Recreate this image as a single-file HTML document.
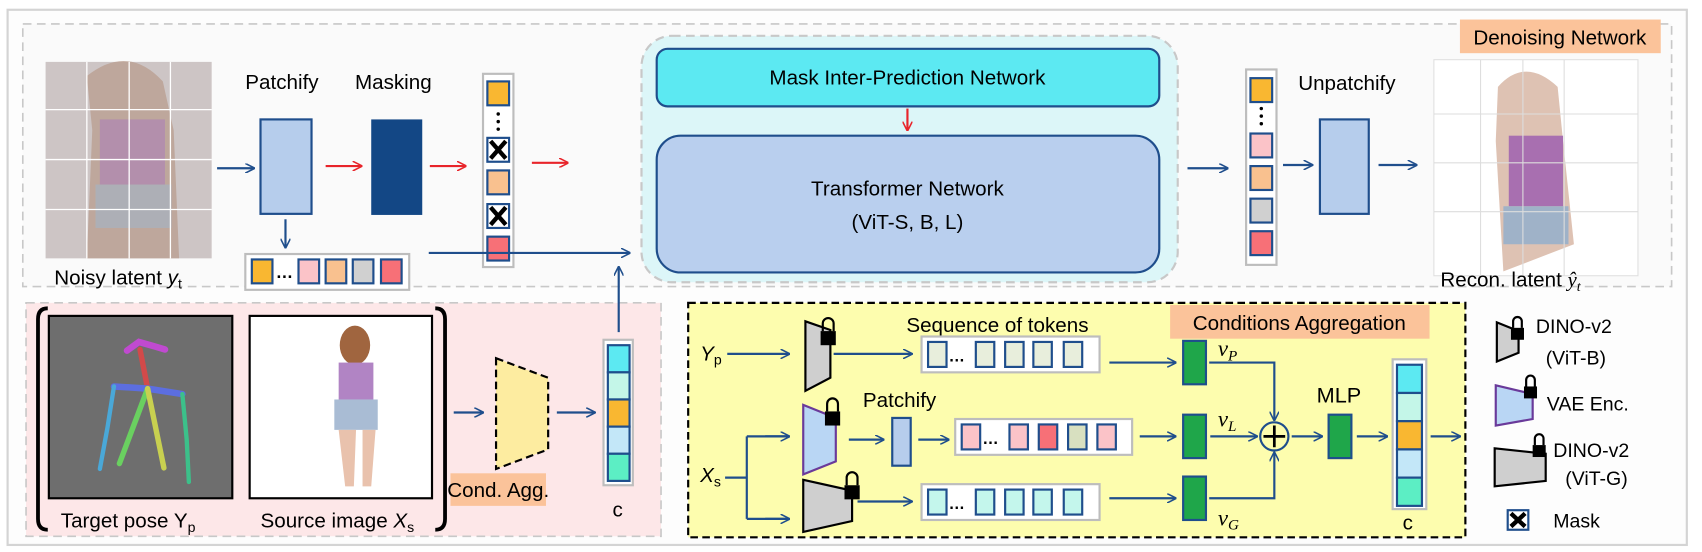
<!DOCTYPE html>
<html><head><meta charset="utf-8"><style>
html,body{margin:0;padding:0;background:#fff;}
svg{display:block;font-family:"Liberation Sans",sans-serif;}
</style></head><body>
<svg width="1702" height="552" viewBox="0 0 1568 508.5" preserveAspectRatio="none" xmlns="http://www.w3.org/2000/svg">
<defs>
<marker id="ab" viewBox="0 0 10 10" refX="9" refY="5" markerWidth="9" markerHeight="9" orient="auto" markerUnits="userSpaceOnUse"><path d="M0,0 L10,5 L0,10" fill="none" stroke="#1f4e8c" stroke-width="1.6"/></marker>
<marker id="ar" viewBox="0 0 10 10" refX="9" refY="5" markerWidth="9" markerHeight="9" orient="auto" markerUnits="userSpaceOnUse"><path d="M0,0 L10,5 L0,10" fill="none" stroke="#e8242a" stroke-width="1.6"/></marker>
</defs>
<rect x="7" y="9" width="1547" height="493" fill="#fdfdfd" stroke="#d4d4d4" stroke-width="2"/>
<rect x="21" y="22" width="1519" height="242" fill="#fafafa" stroke="#c8c8c8" stroke-width="1.5" stroke-dasharray="8,5"/>
<!-- noisy latent -->
<rect x="42" y="57" width="153" height="181" fill="#cdc5c5"/>
<path d="M80,70 Q118,40 150,75 L160,120 L165,238 L80,238 L85,120 Z" fill="#b89a8a" opacity="0.7"/>
<rect x="92" y="110" width="60" height="60" fill="#b08ab0" opacity="0.8"/>
<rect x="88" y="170" width="70" height="40" fill="#a9b1bd" opacity="0.8"/>
<g stroke="#fff" stroke-width="1.2"><line x1="80" y1="57" x2="80" y2="238"/><line x1="119" y1="57" x2="119" y2="238"/><line x1="157" y1="57" x2="157" y2="238"/><line x1="42" y1="101" x2="195" y2="101"/><line x1="42" y1="147" x2="195" y2="147"/><line x1="42" y1="193" x2="195" y2="193"/></g>
<text x="50" y="262" font-size="19">Noisy latent <tspan font-style="italic">y</tspan><tspan font-size="13" dy="4">t</tspan></text>
<line x1="200" y1="155" x2="234" y2="155" stroke="#1f4e8c" stroke-width="2" marker-end="url(#ab)"/>
<text x="226" y="82" font-size="19">Patchify</text>
<rect x="240" y="110" width="47" height="87" fill="#b6cdec" stroke="#1f4e8c" stroke-width="2"/>
<line x1="263" y1="202" x2="263" y2="228" stroke="#1f4e8c" stroke-width="2" marker-end="url(#ab)"/>
<text x="327" y="82" font-size="19">Masking</text>
<rect x="342" y="110" width="47" height="88" fill="#134785"/>
<line x1="300" y1="153" x2="333" y2="153" stroke="#e8242a" stroke-width="2" marker-end="url(#ar)"/>
<line x1="396" y1="153" x2="429" y2="153" stroke="#e8242a" stroke-width="2" marker-end="url(#ar)"/>
<line x1="490" y1="150" x2="523" y2="150" stroke="#e8242a" stroke-width="2" marker-end="url(#ar)"/>
<rect x="445" y="68" width="28" height="178" fill="#fff" stroke="#bdbdbd" stroke-width="2"/>
<g stroke="#1f4e8c" stroke-width="2">
<rect x="449" y="75" width="20" height="22" fill="#f9b731"/>
<rect x="449" y="127" width="20" height="22" fill="#fff"/>
<rect x="449" y="157" width="20" height="22" fill="#f9c18f"/>
<rect x="449" y="188" width="20" height="22" fill="#fff"/>
<rect x="449" y="218" width="20" height="22" fill="#f77077"/>
</g>
<g fill="#000"><circle cx="459" cy="105" r="1.6"/><circle cx="459" cy="112" r="1.6"/><circle cx="459" cy="119" r="1.6"/></g>
<g stroke="#000" stroke-width="4"><path d="M452,130 L466,146 M466,130 L452,146"/><path d="M452,191 L466,207 M466,191 L452,207"/></g>
<rect x="226" y="234" width="151" height="33" fill="#fff" stroke="#bdbdbd" stroke-width="2"/>
<g stroke="#1f4e8c" stroke-width="2">
<rect x="232" y="239" width="19" height="22" fill="#f9b731"/>
<rect x="275" y="239" width="19" height="22" fill="#fbc3c8"/>
<rect x="300" y="239" width="19" height="22" fill="#f9c18f"/>
<rect x="325" y="239" width="19" height="22" fill="#d0d0d0"/>
<rect x="351" y="239" width="19" height="22" fill="#f77077"/>
</g>
<text x="254" y="256" font-size="16" font-weight="bold">…</text>
<path d="M395,233 L580,233" stroke="#1f4e8c" stroke-width="2" marker-end="url(#ab)"/>
<!-- network -->
<rect x="591" y="33" width="494" height="227" rx="28" fill="#dcf6f8" stroke="#c8c8c8" stroke-width="2" stroke-dasharray="8,5"/>
<rect x="605" y="45" width="463" height="53" rx="10" fill="#5ce9f2" stroke="#1f4e8c" stroke-width="2"/>
<text x="836" y="78" font-size="19" text-anchor="middle">Mask Inter-Prediction Network</text>
<line x1="836" y1="100" x2="836" y2="120" stroke="#e8242a" stroke-width="2" marker-end="url(#ar)"/>
<rect x="605" y="125" width="463" height="126" rx="22" fill="#b9cfee" stroke="#1f4e8c" stroke-width="2"/>
<text x="836" y="180" font-size="19" text-anchor="middle">Transformer Network</text>
<text x="836" y="211" font-size="19" text-anchor="middle">(ViT-S, B, L)</text>
<line x1="1094" y1="155" x2="1131" y2="155" stroke="#1f4e8c" stroke-width="2" marker-end="url(#ab)"/>
<rect x="1148" y="64" width="28" height="180" fill="#fff" stroke="#bdbdbd" stroke-width="2"/>
<g stroke="#1f4e8c" stroke-width="2">
<rect x="1152" y="72" width="20" height="22" fill="#f9b731"/>
<rect x="1152" y="123" width="20" height="22" fill="#fbc3c8"/>
<rect x="1152" y="153" width="20" height="22" fill="#f9c18f"/>
<rect x="1152" y="183" width="20" height="22" fill="#d0d0d0"/>
<rect x="1152" y="213" width="20" height="22" fill="#f77077"/>
</g>
<g fill="#000"><circle cx="1162" cy="100" r="1.6"/><circle cx="1162" cy="107" r="1.6"/><circle cx="1162" cy="114" r="1.6"/></g>
<text x="1196" y="83" font-size="19">Unpatchify</text>
<line x1="1182" y1="152" x2="1209" y2="152" stroke="#1f4e8c" stroke-width="2" marker-end="url(#ab)"/>
<rect x="1216" y="110" width="45" height="87" fill="#b6cdec" stroke="#1f4e8c" stroke-width="2"/>
<line x1="1270" y1="152" x2="1305" y2="152" stroke="#1f4e8c" stroke-width="2" marker-end="url(#ab)"/>
<rect x="1345" y="18" width="185" height="31" fill="#fbc39a"/>
<text x="1437" y="41" font-size="19" text-anchor="middle">Denoising Network</text>
<rect x="1321" y="55" width="188" height="199" fill="#fff" stroke="#e0e0e0"/>
<path d="M1380,80 Q1405,52 1435,80 L1440,130 L1450,225 L1385,250 L1378,130 Z" fill="#c89a80" opacity="0.6"/>
<rect x="1390" y="125" width="50" height="65" fill="#a86fb0"/>
<rect x="1385" y="190" width="60" height="35" fill="#9fb2c8"/>
<g stroke="#ddd" stroke-width="1"><line x1="1364" y1="55" x2="1364" y2="254"/><line x1="1403" y1="55" x2="1403" y2="254"/><line x1="1441" y1="55" x2="1441" y2="254"/><line x1="1321" y1="105" x2="1509" y2="105"/><line x1="1321" y1="150" x2="1509" y2="150"/><line x1="1321" y1="195" x2="1509" y2="195"/></g>
<text x="1327" y="264" font-size="19">Recon. latent <tspan font-family="Liberation Serif" font-style="italic">ŷ</tspan><tspan font-family="Liberation Serif" font-style="italic" font-size="13" dy="4">t</tspan></text>
<!-- pink region -->
<rect x="24" y="279" width="585" height="215" fill="#fde7e8" stroke="#c8c8c8" stroke-width="1.5" stroke-dasharray="8,5"/>
<path d="M44,284 Q35,284 35,294 L35,478 Q35,488 44,488" fill="none" stroke="#000" stroke-width="3.5"/>
<path d="M401,284 Q410,284 410,294 L410,478 Q410,488 401,488" fill="none" stroke="#000" stroke-width="3.5"/>
<rect x="45" y="291" width="169" height="168" fill="#6e6e6e" stroke="#000" stroke-width="2"/>
<g stroke-linecap="round" fill="none">
<path d="M117,323 L128,315 L142,319 L152,322" stroke="#c04ad0" stroke-width="6"/>
<path d="M129,322 L136,358" stroke="#d24a4a" stroke-width="5"/>
<path d="M105,356 L136,358 L168,363" stroke="#5c6ee0" stroke-width="6"/>
<path d="M105,356 L99,394 L92,432" stroke="#4aa8d8" stroke-width="4"/>
<path d="M136,358 L110,427" stroke="#6ad060" stroke-width="5"/>
<path d="M136,358 L151,431" stroke="#c8d050" stroke-width="5"/>
<path d="M168,363 L172,405 L174,444" stroke="#3cc08a" stroke-width="4"/>
</g>
<rect x="230" y="291" width="168" height="168" fill="#fff" stroke="#000" stroke-width="2"/>
<ellipse cx="327" cy="318" rx="14" ry="18" fill="#a0653f"/>
<rect x="312" y="334" width="32" height="34" fill="#b184c4"/>
<rect x="308" y="368" width="40" height="28" fill="#a9bcd4"/>
<path d="M312,396 L318,448 L326,448 L328,396 M334,396 L334,448 L342,448 L346,396" fill="#e9c2ad"/>
<text x="56" y="486" font-size="19">Target pose Y<tspan font-size="13" dy="4">p</tspan></text>
<text x="240" y="486" font-size="19">Source image <tspan font-style="italic">X</tspan><tspan font-size="13" dy="4">s</tspan></text>
<line x1="418" y1="380" x2="445" y2="380" stroke="#1f4e8c" stroke-width="2" marker-end="url(#ab)"/>
<path d="M457,330 L505,348 L505,414 L457,432 Z" fill="#fdeca0" stroke="#000" stroke-width="2" stroke-dasharray="7,4"/>
<rect x="415" y="436" width="88" height="30" fill="#fbc39a"/>
<text x="459" y="458" font-size="19" text-anchor="middle">Cond. Agg.</text>
<line x1="513" y1="380" x2="548" y2="380" stroke="#1f4e8c" stroke-width="2" marker-end="url(#ab)"/>
<rect x="556" y="313" width="27" height="134" fill="#fff" stroke="#bdbdbd" stroke-width="2"/>
<g stroke="#1f4e8c" stroke-width="2">
<rect x="560" y="318" width="20" height="25" fill="#5ce9f2"/>
<rect x="560" y="343" width="20" height="25" fill="#c4f6e8"/>
<rect x="560" y="368" width="20" height="25" fill="#f9b731"/>
<rect x="560" y="393" width="20" height="25" fill="#c3e7f8"/>
<rect x="560" y="418" width="20" height="25" fill="#5ceec4"/>
</g>
<text x="569" y="476" font-size="19" text-anchor="middle">c</text>
<line x1="570" y1="306" x2="570" y2="246" stroke="#1f4e8c" stroke-width="2" marker-end="url(#ab)"/>
<!-- yellow box -->
<rect x="634" y="279" width="716" height="216" fill="#fdfdae" stroke="#000" stroke-width="2" stroke-dasharray="7,4"/>
<text x="645" y="332" font-size="19" font-style="italic">Y<tspan font-size="13" dy="4" font-style="normal">p</tspan></text>
<text x="645" y="444" font-size="19" font-style="italic">X<tspan font-size="13" dy="4" font-style="normal">s</tspan></text>
<line x1="670" y1="326" x2="727" y2="326" stroke="#1f4e8c" stroke-width="2" marker-end="url(#ab)"/>
<path d="M668,440 L688,440 M688,402 L688,478 M688,402 L727,402 M688,478 L727,478" fill="none" stroke="#1f4e8c" stroke-width="2"/>
<line x1="705" y1="402" x2="727" y2="402" stroke="#1f4e8c" stroke-width="2" marker-end="url(#ab)"/>
<line x1="705" y1="478" x2="727" y2="478" stroke="#1f4e8c" stroke-width="2" marker-end="url(#ab)"/>
<path d="M742,296 L765,304 L765,348 L742,360 Z" fill="#cfcfcf" stroke="#000" stroke-width="2"/>
<path d="M740,373 L770,385 L770,425 L740,437 Z" fill="#b9d6f4" stroke="#6a3a9a" stroke-width="2"/>
<path d="M740,442 L785,452 L785,480 L740,490 Z" fill="#cfcfcf" stroke="#000" stroke-width="2"/>
<g fill="#000">
<rect x="756" y="305" width="14" height="13"/><path d="M758,305 V298 a5,5 0 0 1 10,0 V305" fill="none" stroke="#000" stroke-width="2"/>
<rect x="760" y="379" width="14" height="13"/><path d="M762,379 V372 a5,5 0 0 1 10,0 V379" fill="none" stroke="#000" stroke-width="2"/>
<rect x="778" y="447" width="14" height="13"/><path d="M780,447 V440 a5,5 0 0 1 10,0 V447" fill="none" stroke="#000" stroke-width="2"/>
</g>
<text x="835" y="306" font-size="19">Sequence of tokens</text>
<line x1="768" y1="326" x2="840" y2="326" stroke="#1f4e8c" stroke-width="2" marker-end="url(#ab)"/>
<text x="795" y="375" font-size="19">Patchify</text>
<line x1="782" y1="405" x2="814" y2="405" stroke="#1f4e8c" stroke-width="2" marker-end="url(#ab)"/>
<rect x="822" y="385" width="17" height="44" fill="#b6cdec" stroke="#1f4e8c" stroke-width="2"/>
<line x1="846" y1="405" x2="874" y2="405" stroke="#1f4e8c" stroke-width="2" marker-end="url(#ab)"/>
<line x1="790" y1="462" x2="840" y2="462" stroke="#1f4e8c" stroke-width="2" marker-end="url(#ab)"/>
<rect x="849" y="310" width="164" height="33" fill="#fff" stroke="#bdbdbd" stroke-width="2"/>
<g stroke="#1f4e8c" stroke-width="2" fill="#e8eedc">
<rect x="855" y="315" width="17" height="23"/><rect x="899" y="315" width="17" height="23"/><rect x="926" y="315" width="17" height="23"/><rect x="952" y="315" width="17" height="23"/><rect x="980" y="315" width="17" height="23"/></g>
<text x="874" y="333" font-size="15" font-weight="bold">…</text>
<rect x="880" y="386" width="163" height="33" fill="#fff" stroke="#bdbdbd" stroke-width="2"/>
<g stroke="#1f4e8c" stroke-width="2">
<rect x="886" y="391" width="17" height="23" fill="#fbc3c8"/><rect x="930" y="391" width="17" height="23" fill="#fbc3c8"/><rect x="957" y="391" width="17" height="23" fill="#f77077"/><rect x="984" y="391" width="17" height="23" fill="#d8e0c0"/><rect x="1011" y="391" width="17" height="23" fill="#fbc3c8"/></g>
<text x="905" y="409" font-size="15" font-weight="bold">…</text>
<rect x="849" y="446" width="164" height="33" fill="#fff" stroke="#bdbdbd" stroke-width="2"/>
<g stroke="#1f4e8c" stroke-width="2" fill="#c4f6ec">
<rect x="855" y="451" width="17" height="23"/><rect x="899" y="451" width="17" height="23"/><rect x="926" y="451" width="17" height="23"/><rect x="952" y="451" width="17" height="23"/><rect x="980" y="451" width="17" height="23"/></g>
<text x="874" y="469" font-size="15" font-weight="bold">…</text>
<line x1="1022" y1="334" x2="1083" y2="334" stroke="#1f4e8c" stroke-width="2" marker-end="url(#ab)"/>
<line x1="1050" y1="402" x2="1083" y2="402" stroke="#1f4e8c" stroke-width="2" marker-end="url(#ab)"/>
<line x1="1022" y1="459" x2="1083" y2="459" stroke="#1f4e8c" stroke-width="2" marker-end="url(#ab)"/>
<rect x="1078" y="281" width="239" height="31" fill="#fbc39a"/>
<text x="1197" y="304" font-size="19" text-anchor="middle">Conditions Aggregation</text>
<g fill="#1fa64a" stroke="#1f4e8c" stroke-width="2">
<rect x="1090" y="314" width="21" height="40"/><rect x="1090" y="382" width="21" height="40"/><rect x="1090" y="439" width="21" height="40"/></g>
<path d="M1114,334 L1174,334 L1174,387" fill="none" stroke="#1f4e8c" stroke-width="2" marker-end="url(#ab)"/>
<line x1="1115" y1="402" x2="1158" y2="402" stroke="#1f4e8c" stroke-width="2" marker-end="url(#ab)"/>
<path d="M1114,459 L1174,459 L1174,417" fill="none" stroke="#1f4e8c" stroke-width="2" marker-end="url(#ab)"/>
<circle cx="1174" cy="402" r="13" fill="none" stroke="#1f4e8c" stroke-width="2"/>
<path d="M1174,392 V412 M1164,402 H1184" stroke="#000" stroke-width="2.5"/>
<g font-family="Liberation Serif" font-style="italic" font-size="21">
<text x="1122" y="328">v<tspan font-size="14" dy="4">P</tspan></text>
<text x="1122" y="393">v<tspan font-size="14" dy="4">L</tspan></text>
<text x="1122" y="484">v<tspan font-size="14" dy="4">G</tspan></text></g>
<text x="1213" y="371" font-size="20">MLP</text>
<line x1="1190" y1="402" x2="1218" y2="402" stroke="#1f4e8c" stroke-width="2" marker-end="url(#ab)"/>
<rect x="1224" y="382" width="21" height="40" fill="#1fa64a" stroke="#1f4e8c" stroke-width="2"/>
<line x1="1250" y1="402" x2="1278" y2="402" stroke="#1f4e8c" stroke-width="2" marker-end="url(#ab)"/>
<rect x="1283" y="331" width="31" height="138" fill="#fff" stroke="#bdbdbd" stroke-width="2"/>
<g stroke="#1f4e8c" stroke-width="2">
<rect x="1287" y="336" width="23" height="26" fill="#5ce9f2"/>
<rect x="1287" y="362" width="23" height="26" fill="#c4f6e8"/>
<rect x="1287" y="388" width="23" height="26" fill="#f9b731"/>
<rect x="1287" y="414" width="23" height="26" fill="#c3e7f8"/>
<rect x="1287" y="440" width="23" height="26" fill="#5ceec4"/>
</g>
<line x1="1318" y1="402" x2="1345" y2="402" stroke="#1f4e8c" stroke-width="2" marker-end="url(#ab)"/>
<text x="1297" y="488" font-size="19" text-anchor="middle">c</text>
<!-- legend -->
<path d="M1379,297 L1399,305 L1399,325 L1379,333 Z" fill="#cfcfcf" stroke="#000" stroke-width="2"/>
<rect x="1392" y="302" width="12" height="11" fill="#000"/><path d="M1394,302 V296 a4,4 0 0 1 8,0 V302" fill="none" stroke="#000" stroke-width="2"/>
<text x="1415" y="307" font-size="18">DINO-v2</text>
<text x="1424" y="336" font-size="18">(ViT-B)</text>
<path d="M1378,355 L1412,363 L1412,386 L1378,392 Z" fill="#b9d6f4" stroke="#6a3a9a" stroke-width="2"/>
<rect x="1404" y="356" width="12" height="11" fill="#000"/><path d="M1406,356 V350 a4,4 0 0 1 8,0 V356" fill="none" stroke="#000" stroke-width="2"/>
<text x="1425" y="378" font-size="18">VAE Enc.</text>
<path d="M1377,413 L1424,418 L1424,443 L1377,448 Z" fill="#cfcfcf" stroke="#000" stroke-width="2"/>
<rect x="1412" y="410" width="12" height="11" fill="#000"/><path d="M1414,410 V404 a4,4 0 0 1 8,0 V410" fill="none" stroke="#000" stroke-width="2"/>
<text x="1431" y="421" font-size="18">DINO-v2</text>
<text x="1442" y="447" font-size="18">(ViT-G)</text>
<rect x="1389" y="470" width="19" height="18" fill="#fff" stroke="#1f4e8c" stroke-width="2"/>
<path d="M1392,473 L1405,485 M1405,473 L1392,485" stroke="#000" stroke-width="4"/>
<text x="1431" y="486" font-size="18">Mask</text>
</svg>
</body></html>
